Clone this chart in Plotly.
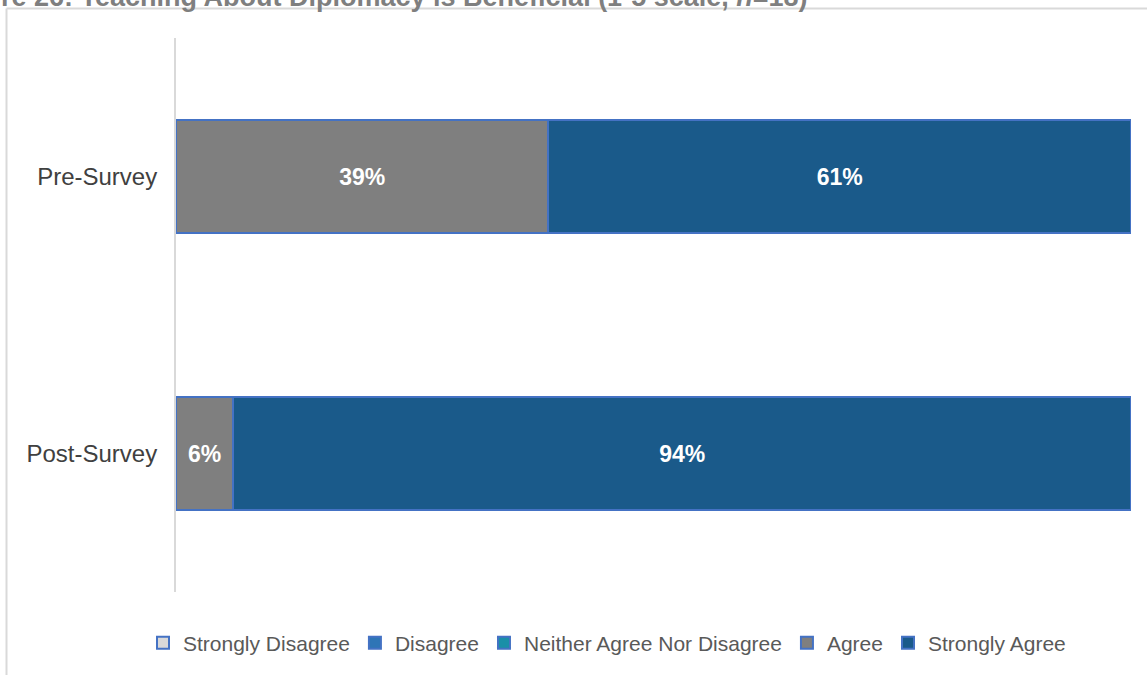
import plotly.graph_objects as go

# Survey responses (share of respondents, %)
surveys = ["Pre-Survey", "Post-Survey"]
responses = ["Strongly Disagree", "Disagree", "Neither Agree Nor Disagree", "Agree", "Strongly Agree"]
strongly_disagree = [0, 0]
disagree = [0, 0]
neither = [0, 0]
agree = [39, 6]
strongly_agree = [61, 94]

title_text = "Figure 26: Teaching About Diplomacy is Beneficial (1-5 scale, <i>n</i>=18)"

series = [strongly_disagree, disagree, neither, agree, strongly_agree]
colors = ["#D9D9D9", "#2E75B6", "#1A8FA8", "#7F7F7F", "#1A5A8A"]
edge = "#4472C4"

fig = go.Figure()
for name, vals, col in zip(responses, series, colors):
    fig.add_trace(go.Bar(
        y=surveys,
        x=vals,
        name=name,
        orientation="h",
        marker=dict(color=col, line=dict(color=edge, width=2)),
        text=[f"{v}%" if v > 0 else "" for v in vals],
        textposition="inside",
        insidetextanchor="middle",
        textfont=dict(family="Liberation Sans, Arial", size=23, color="white", weight="bold"),
        hoverinfo="x+name",
    ))

W, H = 1147, 675
L, R, T, B = 176, 16, 38, 83
pw, ph = W - L - R, H - T - B


def px(x):
    return (x - L) / pw


def py(y):
    return 1 - (y - T) / ph


fig.update_layout(
    width=W,
    height=H,
    barmode="stack",
    bargap=0.59,
    margin=dict(l=L, r=R, t=T, b=B, pad=0, autoexpand=False),
    paper_bgcolor="white",
    plot_bgcolor="white",
    font=dict(family="Liberation Sans, Arial", size=22, color="#595959"),
    showlegend=True,
    legend=dict(
        orientation="h",
        xref="container",
        yref="container",
        x=143 / W,
        xanchor="left",
        y=1 - 643 / H,
        yanchor="middle",
        font=dict(size=21, color="#595959"),
        itemwidth=30,
        traceorder="normal",
    ),
    xaxis=dict(range=[0, 100], visible=False, fixedrange=True),
    yaxis=dict(
        categoryorder="array",
        categoryarray=surveys,
        autorange="reversed",
        showline=True,
        linecolor="#D9D9D9",
        linewidth=2,
        showgrid=False,
        ticks="",
        ticklabelstandoff=12,
        tickfont=dict(size=24, color="#404040"),
    ),
    shapes=[
        dict(type="line", xref="paper", yref="paper",
             x0=px(6.5), x1=px(1160), y0=py(8.5), y1=py(8.5),
             line=dict(color="#D9D9D9", width=2)),
        dict(type="line", xref="paper", yref="paper",
             x0=px(6.5), x1=px(6.5), y0=py(8.5), y1=py(700),
             line=dict(color="#D9D9D9", width=2)),
    ],
    annotations=[
        dict(text="<b>" + title_text + "</b>", xref="paper", yref="paper",
             x=px(810), y=py(14), xanchor="right", yanchor="bottom",
             showarrow=False,
             font=dict(family="Liberation Sans, Arial", size=27, color="#7F7F7F")),
    ],
)

fig.write_html("out.html")
